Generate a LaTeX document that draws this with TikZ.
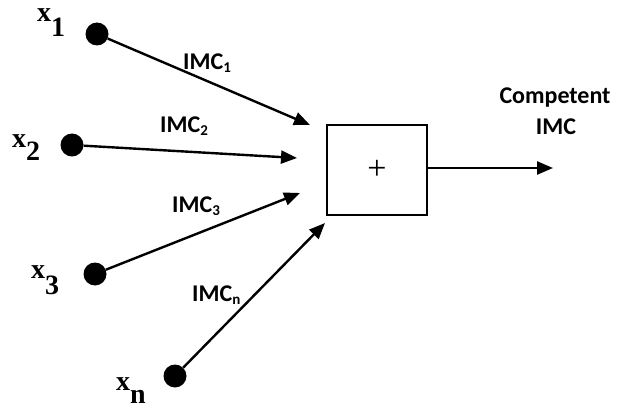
\documentclass[tikz,border=0pt]{standalone}
\usepackage{fontspec}
\setmainfont{Carlito}
\newfontfamily\varfont{Liberation Serif}
\usetikzlibrary{arrows.meta}
\tikzset{
  dot/.style={circle, fill=black, inner sep=0pt, minimum size=23pt},
  wire/.style={line width=2.4pt, -{Triangle[length=16pt,width=13pt]}},
  lbl/.style={font=\fontsize{24}{24}\selectfont\bfseries, inner sep=0pt, anchor=base west},
  var/.style={font=\fontsize{28}{28}\selectfont\varfont\bfseries, inner sep=0pt, anchor=base west},
  sumbox/.style={draw, line width=2.8pt, minimum width=100pt, minimum height=90pt,
                 inner sep=0pt, font=\fontsize{34}{34}\selectfont\varfont},
}
\newcommand\imclabel[1]{IMC\raisebox{-3pt}{\fontsize{15}{15}\selectfont #1}}
\newcommand\varlabel[2]{x\raisebox{-#2pt}{#1}}

\begin{document}
\begin{tikzpicture}[x=1pt, y=-1pt]
  \useasboundingbox (0,0) rectangle (626,409);

  % inputs
  \node[dot] (d1) at (97,34) {};
  \node[dot] (d2) at (72,145) {};
  \node[dot] (d3) at (95,274) {};
  \node[dot] (dn) at (175,376) {};

  \node[var] (v1) at (37,22) {\varlabel{1}{15}};
  \node[var] (v2) at (12,147) {\varlabel{2}{13}};
  \node[var] (v3) at (31,278) {\varlabel{3}{16}};
  \node[var] (vn) at (116,390) {\varlabel{n}{13}};

  % summing block
  \node[sumbox] (sum) at (377,170) {+};

  % arrow tips in front of the block
  \coordinate (t1) at (310,125);
  \coordinate (t2) at (297,158);
  \coordinate (t3) at (300,193);
  \coordinate (tn) at (325,223);
  \coordinate (out) at (553,168);

  \draw[wire] (d1) -- (t1);
  \draw[wire] (d2) -- (t2);
  \draw[wire] (d3) -- (t3);
  \draw[wire] (dn) -- (tn);
  \draw[wire] (sum.east |- out) -- (out);

  % weight labels
  \node[lbl] (w1) at (183,70) {\imclabel{1}};
  \node[lbl] (w2) at (160,132) {\imclabel{2}};
  \node[lbl] (w3) at (172,212) {\imclabel{3}};
  \node[lbl] (wn) at (192,301) {\imclabel{n}};

  % output label
  \node[lbl, anchor=base] (o1) at (555,103) {Competent};
  \node[lbl, anchor=base] (o2) at (556,135) {IMC};
\end{tikzpicture}
\end{document}
